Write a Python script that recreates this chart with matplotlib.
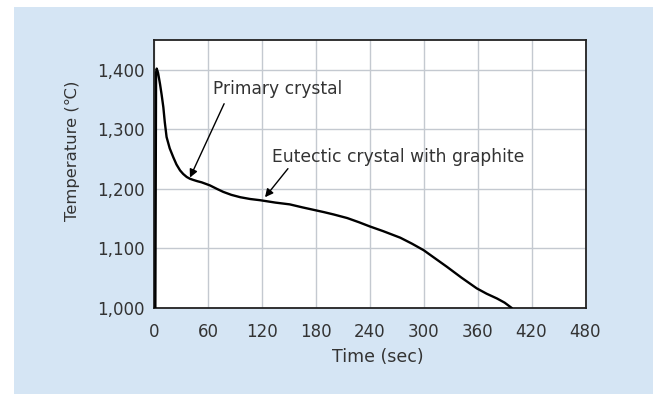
import matplotlib
matplotlib.use("Agg")
import matplotlib.pyplot as plt
from matplotlib.patches import Rectangle

time_s = [1.5, 2.3, 3.0, 4.5, 6.7, 8.5, 10.4, 12, 14, 17.5, 21.5, 25, 29, 32.5, 36.4, 40,
          43.8, 48, 53, 62, 70, 77, 86, 96, 107, 118, 135, 151, 165, 177, 189, 200, 215,
          228, 240, 255, 274, 287, 300, 313, 326, 342, 359, 370, 381.5, 390, 398]
temp_c = [1000, 1395, 1402, 1395, 1376, 1358, 1337, 1312, 1287, 1268, 1253, 1241, 1231,
          1225, 1220, 1217, 1215, 1213, 1211, 1206, 1200, 1195, 1190, 1186, 1183, 1181,
          1177, 1174, 1169, 1165, 1161, 1157, 1151, 1144, 1137, 1129, 1118, 1108, 1097,
          1083, 1069, 1051, 1033, 1024, 1016, 1009, 1000]

x_ticks = [0, 60, 120, 180, 240, 300, 360, 420, 480]
y_ticks = [1000, 1100, 1200, 1300, 1400]
y_tick_labels = ["1,000", "1,100", "1,200", "1,300", "1,400"]

labels = [("Primary crystal", 65.6, 1368), ("Eutectic crystal with graphite", 131, 1253)]
arrows = [((78, 1343), (40, 1219)), ((149, 1234), (123.5, 1186))]

W, H = 659, 394
plt.rcParams['font.family'] = ['DejaVu Sans']
fig = plt.figure(figsize=(W/100, H/100), dpi=100)
fig.patches.append(Rectangle((14/W, 0), (653-14)/W, (H-7)/H,
                             transform=fig.transFigure, facecolor='#d5e5f4',
                             edgecolor='none', zorder=-10))
ax = fig.add_axes([154/W, 1-308/H, (585.5-154)/W, (308-40)/H])
ax.set_facecolor('white')
ax.plot(time_s, temp_c, color='black', lw=1.7, solid_joinstyle='round',
        solid_capstyle='round', zorder=3)
ax.set_xlim(0, 480)
ax.set_ylim(1000, 1450)
ax.set_xticks(x_ticks)
ax.set_yticks(y_ticks)
ax.set_yticklabels(y_tick_labels)
ax.grid(True, color='#c4c9d0', lw=1.0)
ax.set_axisbelow(True)
ax.tick_params(length=0, labelsize=12, colors='#333333')
ax.tick_params(axis='y', pad=7)
ax.tick_params(axis='x', pad=10.5)
for s in ax.spines.values():
    s.set_color('#222222')
    s.set_linewidth(1.3)

fig.text(378/W, 1-357/H, "Time (sec)", fontsize=12.5, color='#333333',
         ha='center', va='center')
fig.text(73/W, 1-151/H, "Temperature (℃)", fontsize=11.8, color='#333333',
         ha='center', va='center', rotation=90)

for text, tx, ty in labels:
    ax.text(tx, ty, text, fontsize=12.3, color='#333333', ha='left', va='center',
            zorder=4)
for tail, head in arrows:
    ax.annotate("", xy=head, xytext=tail, textcoords='data',
                arrowprops=dict(arrowstyle='-|>', color='black', lw=1.0,
                                mutation_scale=12, shrinkA=0, shrinkB=0))

fig.savefig("out.png", dpi=100, facecolor='white')
